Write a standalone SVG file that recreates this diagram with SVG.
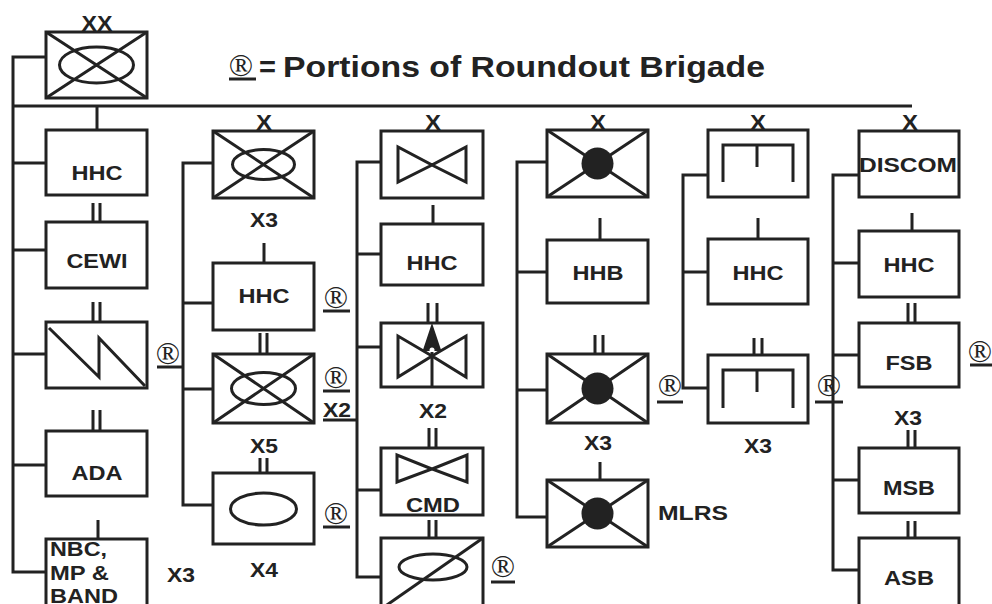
<svg xmlns="http://www.w3.org/2000/svg" width="992" height="604" viewBox="0 0 992 604">
<style>
.bx{fill:#fff;stroke:#222;stroke-width:3}
.ln{fill:none;stroke:#222;stroke-width:3}
.fl{fill:#222;stroke:#222;stroke-width:2}
.t{font-family:"Liberation Sans",Arial,Helvetica,sans-serif;font-weight:bold;font-size:21px;fill:#222;text-anchor:middle}
.tl{text-anchor:start}
.ech{font-size:22px}
.ttl{font-size:29px}
.r{font-family:"Liberation Serif","Times New Roman",serif;font-size:32px;fill:#222;text-anchor:middle}
</style>
<rect width="992" height="604" fill="#fff"/>

<g id="title">
  <text class="r" x="241" y="76">®</text>
  <line class="ln" x1="229" y1="79" x2="256" y2="79"/>
  <text class="t tl ttl" x="259" y="77">=</text>
  <text class="t tl ttl" x="283" y="77" textLength="482" lengthAdjust="spacingAndGlyphs">Portions of Roundout Brigade</text>
</g>

<g id="connectors" class="ln">
  <path d="M46,57 H13 V572 H46 M13,106 H912 M13,163 H46 M13,250 H46 M13,354 H46 M13,465 H46"/>
  <path d="M213,163 H183 V505 H213 M183,303 H213 M183,389 H213"/>
  <path d="M381,162 H357 V577 H381 M357,254 H381 M357,347 H381 M357,490 H381"/>
  <path d="M547,162 H517 V517 H547 M517,272 H547 M517,390 H547"/>
  <path d="M708,175 H683 V388 H708 M683,272 H708"/>
  <path d="M859,175 H833 V570 H859 M833,263 H859 M833,355 H859 M833,480 H859"/>
</g>

<g id="echelon-ticks" class="ln">
  <path d="M97,106 V130 M93,203 V222 M100,203 V222 M93,302 V322 M100,302 V322 M93,410 V431 M100,410 V431 M98,520 V539"/>
  <path d="M264,243 V263 M260,333 V354 M267,333 V354 M260,458 V473 M267,458 V473"/>
  <path d="M433,205 V224 M428,303 V330 M437,303 V330 M429,428 V448 M436,428 V448 M429,520 V538 M436,520 V538"/>
  <path d="M600,218 V240 M595,335 V354 M603,335 V354 M600,462 V480"/>
  <path d="M758,218 V239 M754,338 V355 M762,338 V355"/>
  <path d="M912,213 V231 M908,303 V323 M915,303 V323 M908,430 V448 M915,430 V448 M908,521 V538 M915,521 V538"/>
</g>

<!-- Division -->
<g id="division">
  <rect class="bx" x="46" y="32" width="101" height="66"/>
  <path class="ln" d="M46,32 L147,98 M147,32 L46,98"/>
  <ellipse class="ln" cx="96.5" cy="65" rx="37" ry="18"/>
  <text class="t ech" x="97" y="31" textLength="31" lengthAdjust="spacingAndGlyphs">XX</text>
</g>

<!-- Column 1 -->
<g id="div-hhc">
  <rect class="bx" x="46" y="130" width="101" height="65"/>
  <text class="t" x="97" y="180" textLength="51" lengthAdjust="spacingAndGlyphs">HHC</text>
</g>
<g id="cewi">
  <rect class="bx" x="46" y="222" width="101" height="66"/>
  <text class="t" x="97" y="268" textLength="61" lengthAdjust="spacingAndGlyphs">CEWI</text>
</g>
<g id="signal">
  <rect class="bx" x="46" y="322" width="101" height="66"/>
  <path class="ln" d="M49,328 L99,377 L99,338 L145,386"/>
  <text class="r" x="168" y="364">®</text>
  <line class="ln" x1="157" y1="367" x2="183" y2="367"/>
</g>
<g id="ada">
  <rect class="bx" x="46" y="431" width="101" height="65"/>
  <text class="t" x="97" y="480" textLength="51" lengthAdjust="spacingAndGlyphs">ADA</text>
</g>
<g id="nbc-mp-band">
  <rect class="bx" x="46" y="539" width="101" height="70"/>
  <text class="t tl" x="50" y="556" textLength="57" lengthAdjust="spacingAndGlyphs">NBC,</text>
  <text class="t tl" x="50" y="580" textLength="59" lengthAdjust="spacingAndGlyphs">MP &amp;</text>
  <text class="t tl" x="50" y="603" textLength="68" lengthAdjust="spacingAndGlyphs">BAND</text>
  <text class="t" x="181" y="582" textLength="28" lengthAdjust="spacingAndGlyphs">X3</text>
</g>

<!-- Column 2 -->
<g id="bde">
  <text class="t ech" x="264" y="130" textLength="16" lengthAdjust="spacingAndGlyphs">X</text>
  <rect class="bx" x="213" y="131" width="101" height="67"/>
  <path class="ln" d="M213,131 L314,198 M314,131 L213,198"/>
  <ellipse class="ln" cx="263.5" cy="164.5" rx="31" ry="15"/>
  <text class="t" x="264" y="227" textLength="28" lengthAdjust="spacingAndGlyphs">X3</text>
</g>
<g id="bde-hhc">
  <rect class="bx" x="213" y="263" width="101" height="67"/>
  <text class="t" x="264" y="303" textLength="51" lengthAdjust="spacingAndGlyphs">HHC</text>
  <text class="r" x="336" y="308">®</text>
  <line class="ln" x1="323" y1="311" x2="350" y2="311"/>
</g>
<g id="inf-bn">
  <rect class="bx" x="213" y="354" width="101" height="69"/>
  <path class="ln" d="M213,354 L314,423 M314,354 L213,423"/>
  <ellipse class="ln" cx="263.5" cy="388.5" rx="32" ry="16"/>
  <text class="r" x="336" y="388">®</text>
  <line class="ln" x1="323" y1="391" x2="350" y2="391"/>
  <text class="t tl" x="323" y="417" textLength="28" lengthAdjust="spacingAndGlyphs">X2</text>
  <line class="ln" x1="323" y1="420" x2="357" y2="420"/>
  <text class="t" x="264" y="453" textLength="28" lengthAdjust="spacingAndGlyphs">X5</text>
</g>
<g id="armor-bn">
  <rect class="bx" x="213" y="473" width="101" height="71"/>
  <ellipse class="ln" cx="263.5" cy="509" rx="33" ry="16"/>
  <text class="r" x="336" y="524">®</text>
  <line class="ln" x1="323" y1="527" x2="350" y2="527"/>
  <text class="t" x="264" y="577" textLength="28" lengthAdjust="spacingAndGlyphs">X4</text>
</g>

<!-- Column 3 -->
<g id="avn-bde">
  <text class="t ech" x="433" y="130" textLength="16" lengthAdjust="spacingAndGlyphs">X</text>
  <rect class="bx" x="381" y="131" width="102" height="67"/>
  <path class="ln" d="M398,147 L398,182 L432,165 Z M466,147 L466,182 L432,165 Z"/>
</g>
<g id="avn-hhc">
  <rect class="bx" x="381" y="224" width="102" height="61"/>
  <text class="t" x="432" y="270" textLength="51" lengthAdjust="spacingAndGlyphs">HHC</text>
</g>
<g id="atk-hel-bn">
  <rect class="bx" x="381" y="323" width="102" height="64"/>
  <path class="ln" d="M398,336 L398,377 L432,356 Z M466,336 L466,377 L432,356 Z"/>
  <path class="fl" d="M432,326 L440,350 L424,350 Z"/>
  <circle cx="432" cy="350" r="2.5" fill="#fff"/>
  <line class="ln" x1="432" y1="352" x2="432" y2="387"/>
  <text class="t" x="433" y="418" textLength="28" lengthAdjust="spacingAndGlyphs">X2</text>
</g>
<g id="cmd-avn">
  <rect class="bx" x="381" y="448" width="102" height="67"/>
  <path class="ln" d="M397,455 L397,482 L432,469 Z M467,455 L467,482 L432,469 Z"/>
  <text class="t" x="433" y="512" textLength="54" lengthAdjust="spacingAndGlyphs">CMD</text>
</g>
<g id="cav-sqdn">
  <rect class="bx" x="381" y="538" width="102" height="71"/>
  <ellipse class="ln" cx="433" cy="567" rx="34" ry="13"/>
  <path class="ln" d="M483,538 L384,607"/>
  <text class="r" x="503" y="577">®</text>
  <line class="ln" x1="491" y1="582" x2="515" y2="582"/>
</g>

<!-- Column 4 -->
<g id="divarty">
  <text class="t ech" x="598" y="130" textLength="16" lengthAdjust="spacingAndGlyphs">X</text>
  <rect class="bx" x="547" y="130" width="101" height="67"/>
  <path class="ln" d="M547,130 L648,197 M648,130 L547,197"/>
  <circle cx="597.5" cy="163.5" r="16" fill="#222"/>
</g>
<g id="hhb">
  <rect class="bx" x="547" y="240" width="101" height="63"/>
  <text class="t" x="598" y="280" textLength="51" lengthAdjust="spacingAndGlyphs">HHB</text>
</g>
<g id="fa-bn">
  <rect class="bx" x="547" y="354" width="101" height="69"/>
  <path class="ln" d="M547,354 L648,423 M648,354 L547,423"/>
  <circle cx="597.5" cy="388.5" r="16" fill="#222"/>
  <text class="t" x="598" y="450" textLength="28" lengthAdjust="spacingAndGlyphs">X3</text>
  <text class="r" x="670" y="396">®</text>
  <line class="ln" x1="657" y1="402" x2="683" y2="402"/>
</g>
<g id="mlrs">
  <rect class="bx" x="547" y="480" width="101" height="67"/>
  <path class="ln" d="M547,480 L648,547 M648,480 L547,547"/>
  <circle cx="597.5" cy="513.5" r="16" fill="#222"/>
  <text class="t tl" x="658" y="520" textLength="70" lengthAdjust="spacingAndGlyphs">MLRS</text>
</g>

<!-- Column 5 -->
<g id="engr-bde">
  <text class="t ech" x="758" y="130" textLength="16" lengthAdjust="spacingAndGlyphs">X</text>
  <rect class="bx" x="708" y="130" width="100" height="67"/>
  <path class="ln" d="M723,182 V145 H793 V182 M757,145 V167"/>
</g>
<g id="engr-hhc">
  <rect class="bx" x="708" y="239" width="100" height="65"/>
  <text class="t" x="758" y="280" textLength="51" lengthAdjust="spacingAndGlyphs">HHC</text>
</g>
<g id="engr-bn">
  <rect class="bx" x="708" y="355" width="100" height="68"/>
  <path class="ln" d="M723,408 V370 H793 V408 M757,370 V392"/>
  <text class="t" x="758" y="453" textLength="28" lengthAdjust="spacingAndGlyphs">X3</text>
  <text class="r" x="829" y="396">®</text>
  <line class="ln" x1="815" y1="402" x2="843" y2="402"/>
</g>

<!-- Column 6 -->
<g id="discom">
  <text class="t ech" x="910" y="130" textLength="16" lengthAdjust="spacingAndGlyphs">X</text>
  <rect class="bx" x="859" y="131" width="100" height="66"/>
  <text class="t" x="908" y="172" textLength="98" lengthAdjust="spacingAndGlyphs">DISCOM</text>
</g>
<g id="discom-hhc">
  <rect class="bx" x="859" y="231" width="100" height="66"/>
  <text class="t" x="909" y="272" textLength="51" lengthAdjust="spacingAndGlyphs">HHC</text>
</g>
<g id="fsb">
  <rect class="bx" x="859" y="323" width="100" height="64"/>
  <text class="t" x="909" y="370" textLength="47" lengthAdjust="spacingAndGlyphs">FSB</text>
  <text class="r" x="980" y="362">®</text>
  <line class="ln" x1="970" y1="365" x2="992" y2="365"/>
  <text class="t" x="908" y="425" textLength="28" lengthAdjust="spacingAndGlyphs">X3</text>
</g>
<g id="msb">
  <rect class="bx" x="859" y="448" width="100" height="65"/>
  <text class="t" x="909" y="495" textLength="52" lengthAdjust="spacingAndGlyphs">MSB</text>
</g>
<g id="asb">
  <rect class="bx" x="859" y="538" width="100" height="71"/>
  <text class="t" x="909" y="585" textLength="50" lengthAdjust="spacingAndGlyphs">ASB</text>
</g>
</svg>
